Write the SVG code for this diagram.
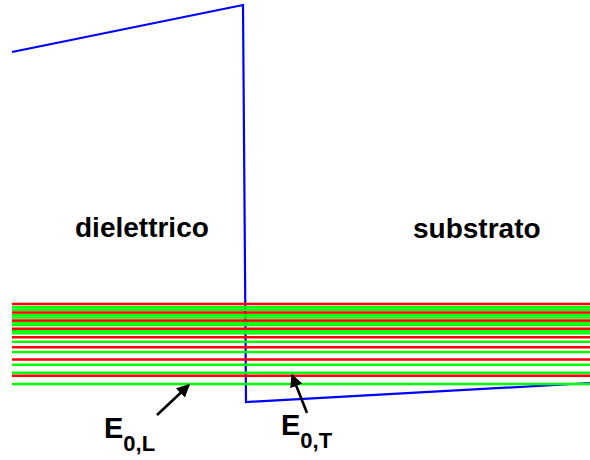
<svg xmlns="http://www.w3.org/2000/svg" width="590" height="460" viewBox="0 0 590 460">
<style>
.band{fill:none;stroke:#0000ff;stroke-width:2.2;stroke-linejoin:miter}
.r{stroke:#ff0000;stroke-width:2.4}
.g{stroke:#00ff00;stroke-width:2.4}
.lbl{font-family:"Liberation Sans",Arial,sans-serif;font-weight:bold;fill:#000}
.arr{stroke:#000;stroke-width:2.6;fill:none;marker-end:url(#ah)}
</style>
<defs>
<marker id="ah" viewBox="0 0 10 10" refX="9" refY="5" markerWidth="5" markerHeight="5" orient="auto" markerUnits="strokeWidth">
<path d="M0,0 L10,5 L0,10 z" fill="#000"/>
</marker>
</defs>
<rect width="590" height="460" fill="#fff"/>
<g id="band">
<path class="band" d="M12,52 L243,5 L246,402 L590,383"/>
</g>
<g id="levels">
<line class="g" x1="12" y1="307.3" x2="590" y2="307.3"/>
<line class="g" x1="12" y1="309.8" x2="590" y2="309.8"/>
<line class="g" x1="12" y1="315.3" x2="590" y2="315.3"/>
<line class="g" x1="12" y1="317.6" x2="590" y2="317.6"/>
<line class="g" x1="12" y1="322.5" x2="590" y2="322.5"/>
<line class="g" x1="12" y1="325" x2="590" y2="325"/>
<line class="g" x1="12" y1="331" x2="590" y2="331"/>
<line class="g" x1="12" y1="333.4" x2="590" y2="333.4"/>
<line class="g" x1="12" y1="341.8" x2="590" y2="341.8"/>
<line class="g" x1="12" y1="352" x2="590" y2="352"/>
<line class="g" x1="12" y1="364.8" x2="590" y2="364.8"/>
<line class="g" x1="12" y1="372.8" x2="590" y2="372.8"/>
<line class="g" x1="12" y1="384" x2="590" y2="384"/>
<line class="r" x1="12" y1="304" x2="590" y2="304"/>
<line class="r" x1="12" y1="312.5" x2="590" y2="312.5"/>
<line class="r" x1="12" y1="320.5" x2="590" y2="320.5"/>
<line class="r" x1="12" y1="328.7" x2="590" y2="328.7"/>
<line class="r" x1="12" y1="337.3" x2="590" y2="337.3"/>
<line class="r" x1="12" y1="347.3" x2="590" y2="347.3"/>
<line class="r" x1="12" y1="359.5" x2="590" y2="359.5"/>
<line class="r" x1="12" y1="375.7" x2="590" y2="375.7"/>
</g>
<g id="dielettrico"><text class="lbl" x="75" y="237" font-size="28">dielettrico</text></g>
<g id="substrato"><text class="lbl" x="413" y="238" font-size="28">substrato</text></g>
<g id="E0L"><text class="lbl" x="104" y="438" font-size="29">E<tspan font-size="22" dy="13">0,L</tspan></text></g>
<g id="E0T"><text class="lbl" x="281" y="435" font-size="29">E<tspan font-size="22" dy="13">0,T</tspan></text></g>
<g id="connectors">
<line class="arr" x1="157" y1="415" x2="189" y2="385"/>
<line class="arr" x1="307" y1="413" x2="292" y2="375"/>
</g>
</svg>
